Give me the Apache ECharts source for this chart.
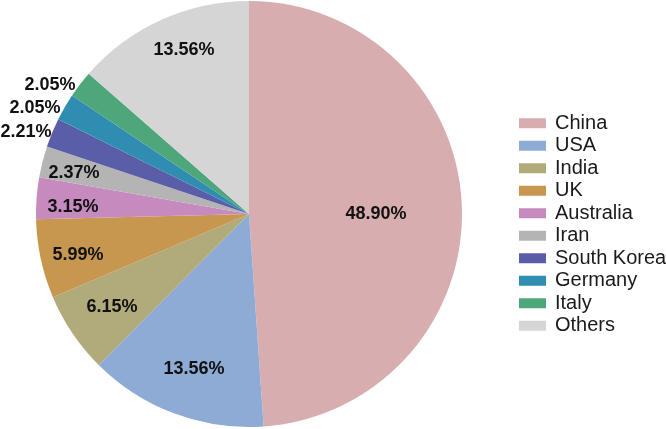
<!DOCTYPE html>
<html>
<head>
<meta charset="utf-8">
<script src="https://cdn.jsdelivr.net/npm/echarts@6/dist/echarts.min.js"></script>
<style>
  html, body { margin: 0; padding: 0; background: #fff; }
  #main { width: 666px; height: 429px; }
</style>
</head>
<body>
<div id="main"></div>
<script>
  // chart data
  const countries = ['China', 'USA', 'India', 'UK', 'Australia', 'Iran', 'South Korea', 'Germany', 'Italy', 'Others'];
  const shares = [48.90, 13.56, 6.15, 5.99, 3.15, 2.37, 2.21, 2.05, 2.05, 13.56];
  const colors = ['#d8adb0', '#8eabd6', '#b1aa7b', '#c8974f', '#c68abf', '#b4b4b4', '#5a5ea8', '#2f8db2', '#4da77a', '#d5d5d5'];

  // where each percentage label sits (best-fit placement like the original)
  const labelSpots = [
    [376, 214], [194, 369], [112, 307], [78, 255], [73, 207],
    [74, 173], [26, 132], [35, 108], [50, 85], [184, 50]
  ];

  const chart = echarts.init(document.getElementById('main'));

  chart.setOption({
    animation: false,
    color: colors,
    legend: {
      orient: 'vertical',
      left: 514,
      top: 107,
      itemWidth: 27,
      itemHeight: 10,
      itemGap: 0,
      icon: 'rect',
      textStyle: {
        fontFamily: 'Liberation Sans, Arial, sans-serif',
        fontSize: 20,
        lineHeight: 22.5,
        color: '#1a1a1a',
        padding: [0, 0, 0, 4]
      },
      data: countries
    },
    series: [{
      type: 'pie',
      center: [249, 214],
      radius: 213,
      startAngle: 90,
      clockwise: true,
      avoidLabelOverlap: false,
      label: {
        show: true,
        position: 'inside',
        formatter: (p) => p.value.toFixed(2) + '%',
        fontFamily: 'Liberation Sans, Arial, sans-serif',
        fontSize: 18,
        fontWeight: 'bold',
        color: '#111'
      },
      labelLine: { show: false },
      labelLayout: function (params) {
        const spot = labelSpots[params.dataIndex];
        return { x: spot[0], y: spot[1], align: 'center', verticalAlign: 'middle' };
      },
      emphasis: { disabled: true },
      itemStyle: { borderWidth: 0 },
      data: countries.map((name, i) => ({ name: name, value: shares[i] }))
    }]
  });
</script>
</body>
</html>
